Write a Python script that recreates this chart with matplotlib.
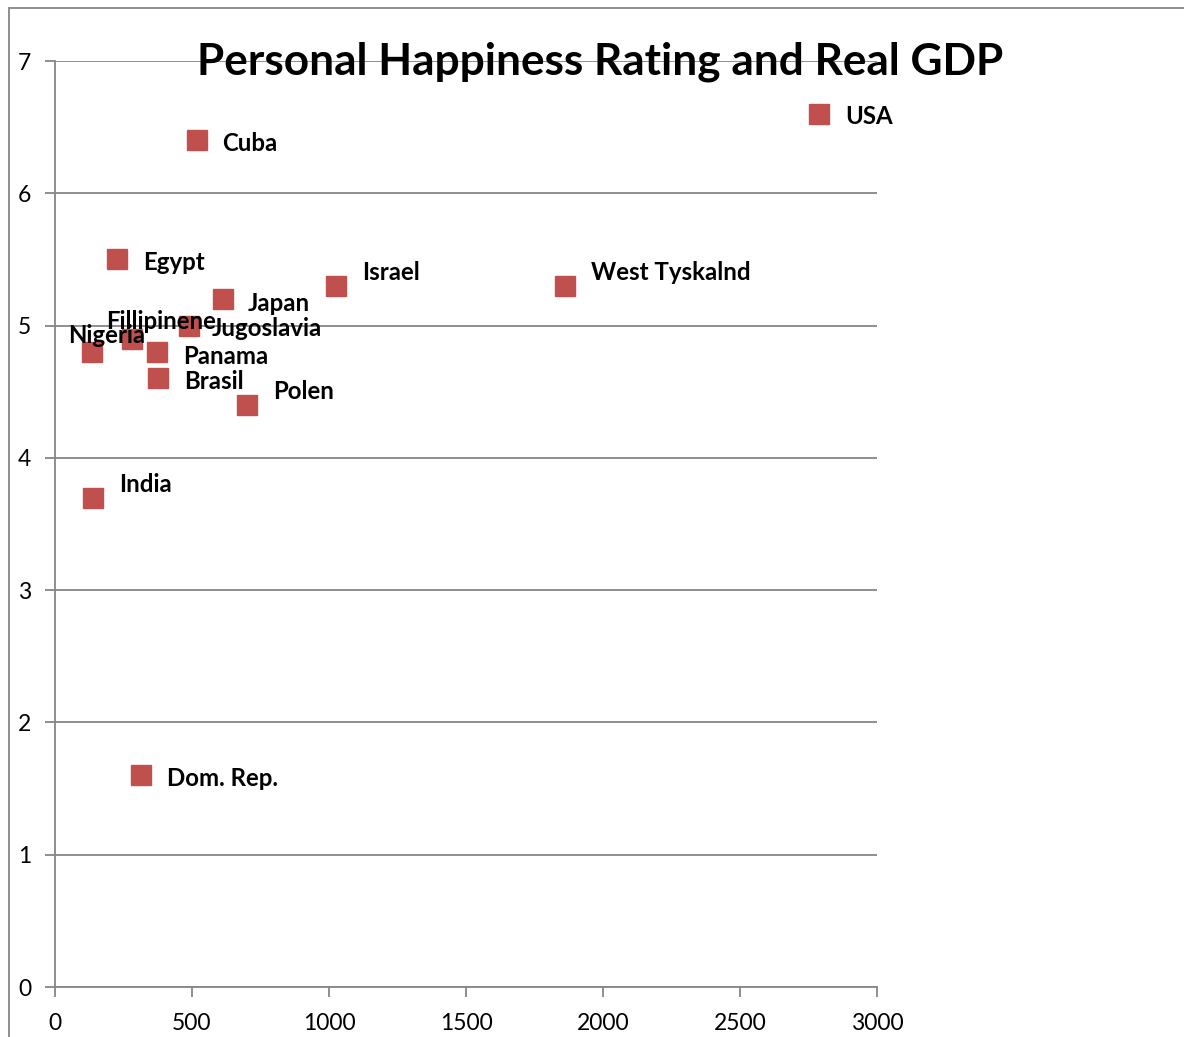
import matplotlib
matplotlib.use("Agg")
import matplotlib.pyplot as plt
from matplotlib.patches import Rectangle

countries = ["USA", "Cuba", "Egypt", "Israel", "West Tyskalnd", "Japan", "Jugoslavia",
             "Fillipinene", "Nigeria", "Panama", "Brasil", "Polen", "India", "Dom. Rep."]
gdp = [2790, 518, 226, 1026, 1861, 613, 489, 281, 135, 372, 376, 701, 139, 314]
happiness = [6.6, 6.4, 5.5, 5.3, 5.3, 5.2, 5.0, 4.9, 4.8, 4.8, 4.6, 4.4, 3.7, 1.6]
x_ticks = [0, 500, 1000, 1500, 2000, 2500, 3000]
y_ticks = [0, 1, 2, 3, 4, 5, 6, 7]
title = "Personal Happiness Rating and Real GDP"

# label offsets in pixels (dx, dy), dy upward
label_offsets = {
    "USA": (26, -3), "Cuba": (25, -3), "Egypt": (26, -3), "Israel": (26, 13),
    "West Tyskalnd": (26, 13), "Japan": (25, -4), "Jugoslavia": (23, -3),
    "Fillipinene": (-26, 17), "Nigeria": (-24, 17), "Panama": (26, -4),
    "Brasil": (26, -3), "Polen": (26, 13), "India": (26, 13), "Dom. Rep.": (26, -3),
}

plt.rcParams['font.family'] = ['Lato', 'DejaVu Sans']

W, H = 1184, 1037
fig = plt.figure(figsize=(W / 100, H / 100), dpi=100)
ax = fig.add_axes([55 / W, 1 - 987 / H, (877 - 55) / W, (987 - 61) / H])

grid_c = "#868686"
ax.set_xlim(0, 3000)
ax.set_ylim(0, 7)
ax.set_xticks(x_ticks)
ax.set_yticks(y_ticks)
ax.yaxis.grid(True, color=grid_c, linewidth=1.3)
ax.set_axisbelow(True)
for s in ["top", "right"]:
    ax.spines[s].set_visible(False)
for s in ["left", "bottom"]:
    ax.spines[s].set_color(grid_c)
    ax.spines[s].set_linewidth(1.3)
ax.tick_params(axis="both", colors=grid_c, labelcolor="black", labelsize=16.5,
               length=7, width=1.3)
ax.tick_params(axis="x", pad=12)
ax.tick_params(axis="y", pad=10)

ax.plot(gdp, happiness, linestyle="none", marker="s", markersize=14.5,
        color="#C0504D", markeredgecolor="#C0504D", clip_on=False, zorder=3)

for name, x, y in zip(countries, gdp, happiness):
    dx, dy = label_offsets[name]
    ax.annotate(name, (x, y), xytext=(dx, dy), textcoords="offset pixels",
                ha="left", va="center", fontsize=17.3, fontweight="bold", zorder=4)

fig.text(600 / W, 1 - 62 / H, title, ha="center", va="center",
         fontsize=31.8, fontweight="bold")

fig.patches.append(Rectangle((9 / W, -0.1), 1.2, 1 - 8 / H + 0.1,
                             transform=fig.transFigure, fill=False,
                             edgecolor=grid_c, linewidth=1.3))

fig.savefig("out.png", dpi=100)
